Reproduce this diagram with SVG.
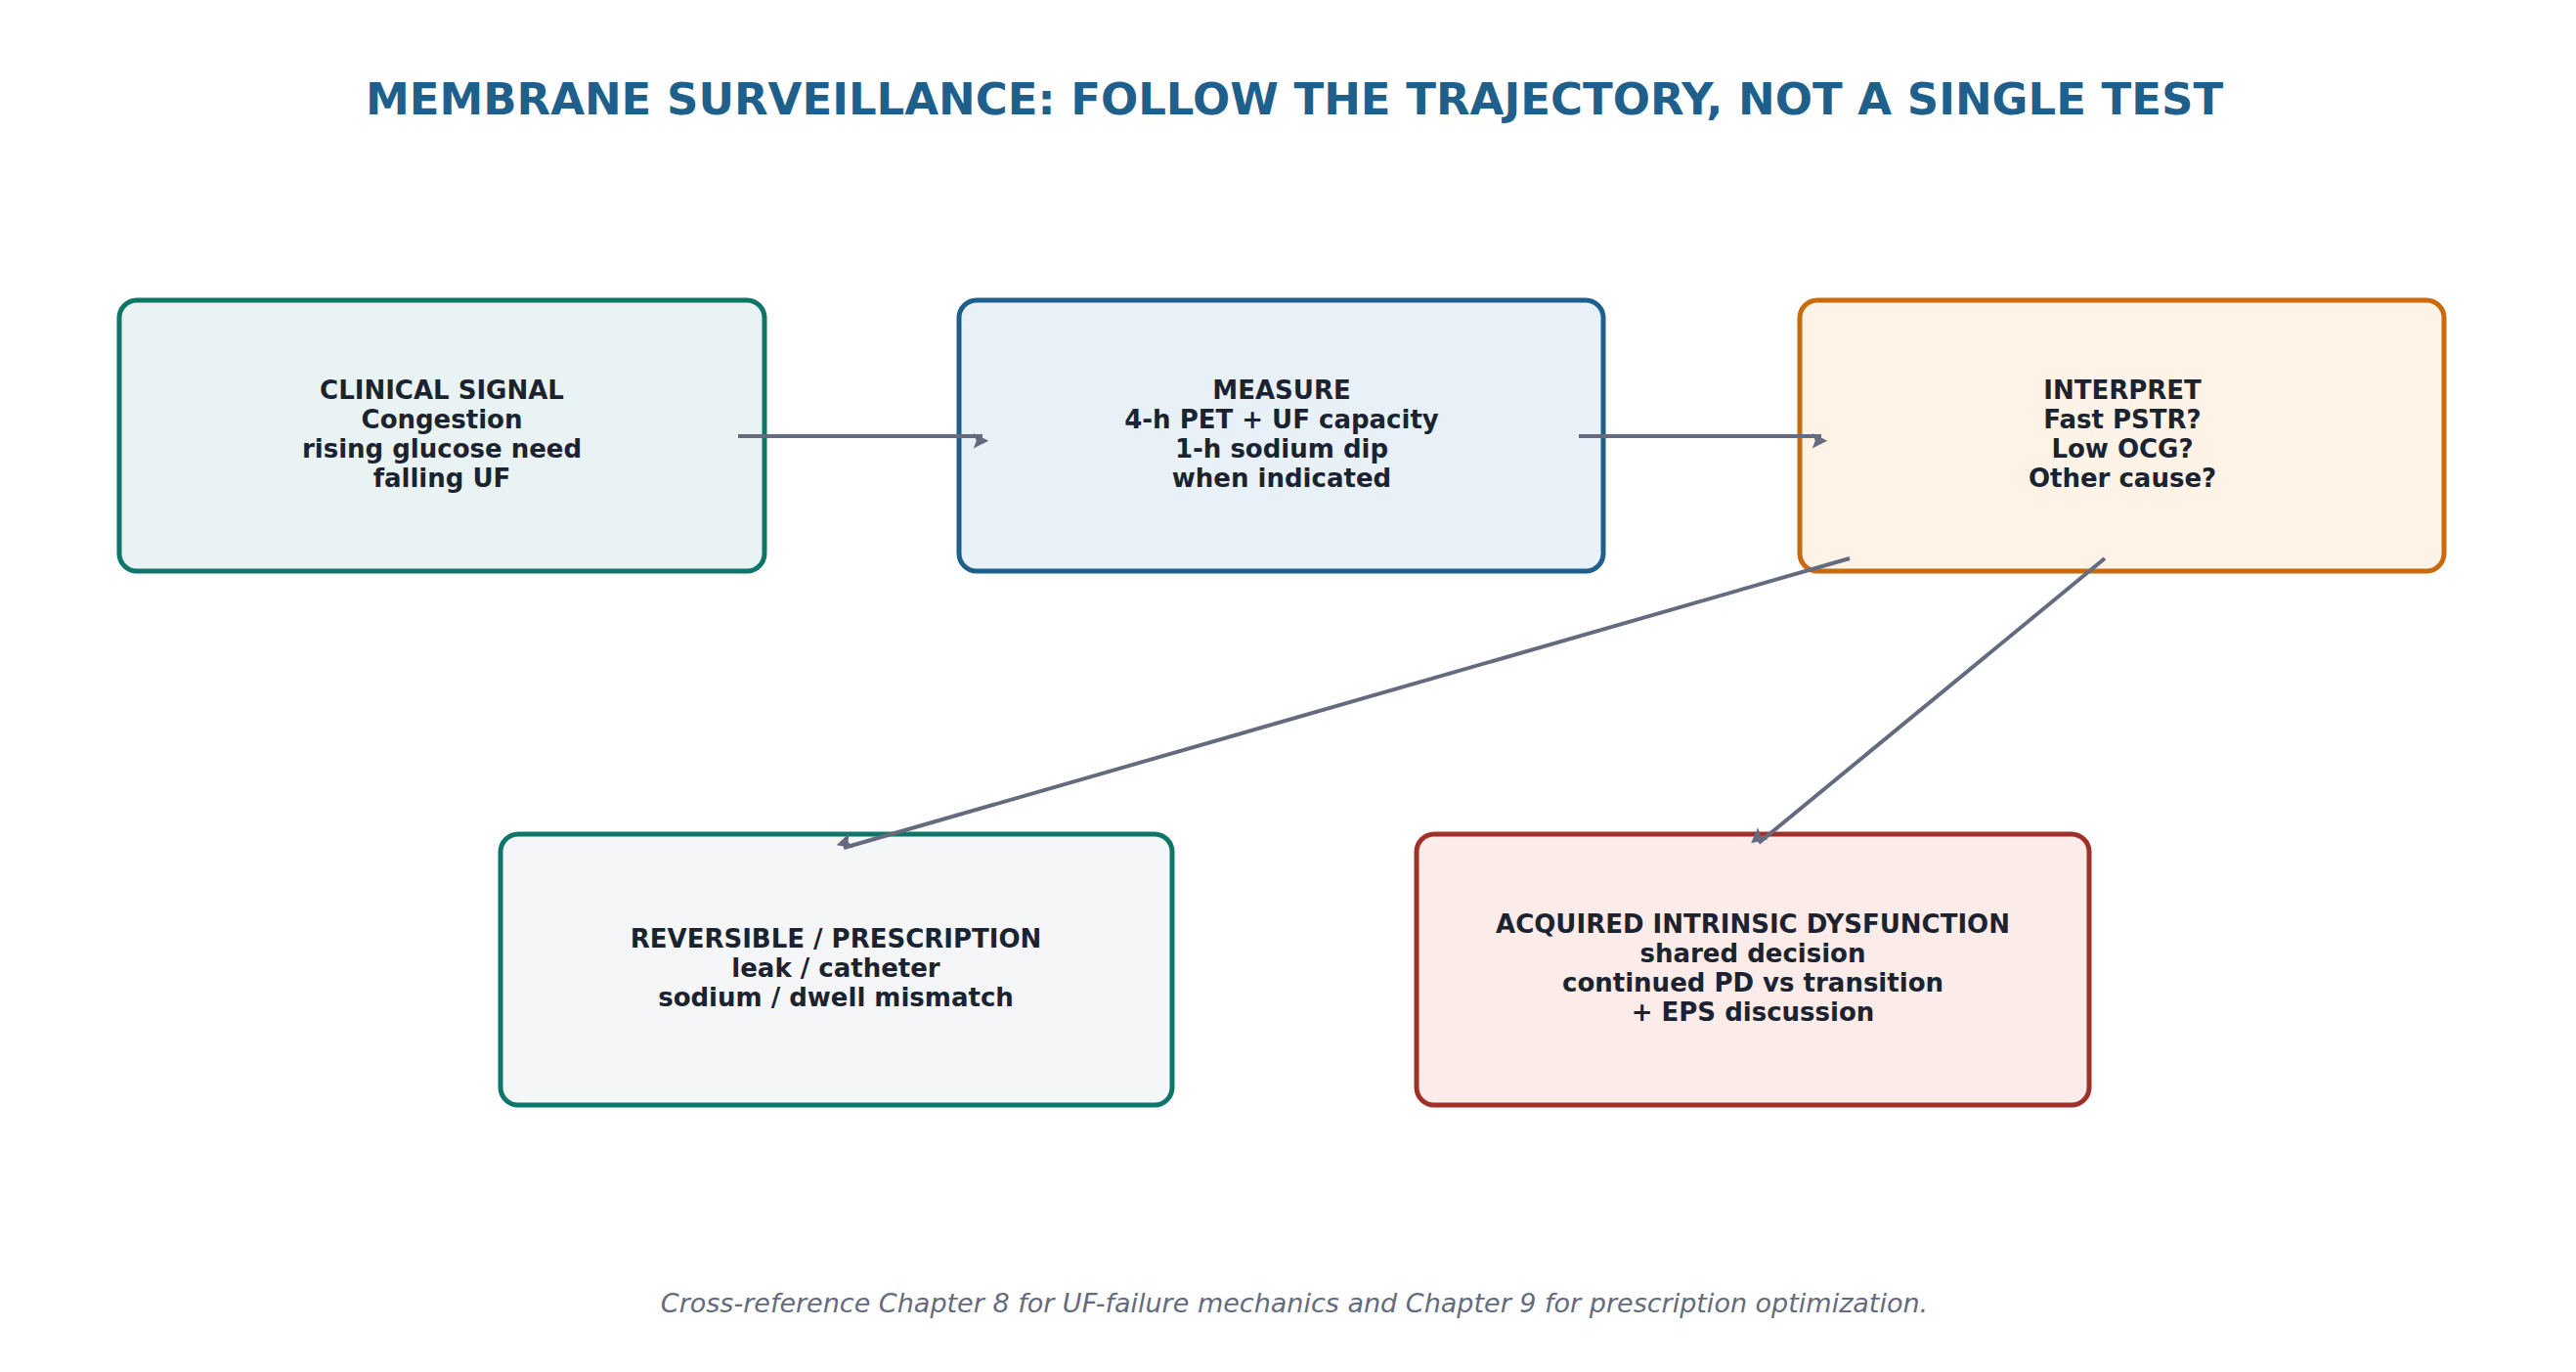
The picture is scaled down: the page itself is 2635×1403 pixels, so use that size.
<svg xmlns="http://www.w3.org/2000/svg" width="2635" height="1403" viewBox="0 0 2635 1403">
<style>
.t{font-family:"DejaVu Sans","Liberation Sans",sans-serif;font-weight:bold;font-size:26px;fill:#1c2330;text-anchor:middle}
.box{stroke-width:5}
.c{stroke:#646b7e;stroke-width:4;fill:none;marker-end:url(#a)}
</style>
<defs><marker id="a" viewBox="0 0 10 10" refX="9" refY="5" markerWidth="6" markerHeight="6" orient="auto" markerUnits="userSpaceOnUse" style="overflow:visible"><path d="M0,0 L10,5 L0,10 L2,5 Z" fill="#646b7e" transform="scale(2.6) translate(-2.5,-5) translate(0,5)"/></marker></defs>
<rect width="2635" height="1403" fill="#fff"/>
<text x="1324" y="117" font-family="DejaVu Sans,Liberation Sans,sans-serif" font-weight="bold" font-size="45" fill="#1f5f8b" text-anchor="middle">MEMBRANE SURVEILLANCE: FOLLOW THE TRAJECTORY, NOT A SINGLE TEST</text>
<g id="n1"><rect class="box" x="122" y="307" width="660" height="277" rx="18" fill="#eaf3f3" stroke="#0e7669"/>
<text class="t" x="452" y="408">CLINICAL SIGNAL</text><text class="t" x="452" y="438">Congestion</text><text class="t" x="452" y="468">rising glucose need</text><text class="t" x="452" y="498">falling UF</text></g>
<g id="n2"><rect class="box" x="981" y="307" width="659" height="277" rx="18" fill="#e9f1f8" stroke="#1f5f8b"/>
<text class="t" x="1311" y="408">MEASURE</text><text class="t" x="1311" y="438">4-h PET + UF capacity</text><text class="t" x="1311" y="468">1-h sodium dip</text><text class="t" x="1311" y="498">when indicated</text></g>
<g id="n3"><rect class="box" x="1841" y="307" width="659" height="277" rx="18" fill="#fef3e6" stroke="#c96a0c"/>
<text class="t" x="2171" y="408">INTERPRET</text><text class="t" x="2171" y="438">Fast PSTR?</text><text class="t" x="2171" y="468">Low OCG?</text><text class="t" x="2171" y="498">Other cause?</text></g>
<g id="n4"><rect class="box" x="512" y="853" width="687" height="277" rx="18" fill="#f4f6f8" stroke="#0e7669"/>
<text class="t" x="855" y="969">REVERSIBLE / PRESCRIPTION</text><text class="t" x="855" y="999">leak / catheter</text><text class="t" x="855" y="1029">sodium / dwell mismatch</text></g>
<g id="n5"><rect class="box" x="1449" y="853" width="688" height="277" rx="18" fill="#fbebe9" stroke="#a0312a"/>
<text class="t" x="1793" y="954">ACQUIRED INTRINSIC DYSFUNCTION</text><text class="t" x="1793" y="984">shared decision</text><text class="t" x="1793" y="1014">continued PD vs transition</text><text class="t" x="1793" y="1044">+ EPS discussion</text></g>
<g id="connectors">
<line class="c" x1="755" y1="446" x2="1005" y2="446"/>
<line class="c" x1="1615" y1="446" x2="1863" y2="446"/>
<line class="c" x1="1892" y1="571" x2="863" y2="867"/>
<line class="c" x1="2153" y1="571" x2="1799" y2="862"/>
</g>
<text x="1324" y="1342" font-family="DejaVu Sans,Liberation Sans,sans-serif" font-style="italic" font-size="27" fill="#646b7e" text-anchor="middle">Cross-reference Chapter 8 for UF-failure mechanics and Chapter 9 for prescription optimization.</text>
</svg>
